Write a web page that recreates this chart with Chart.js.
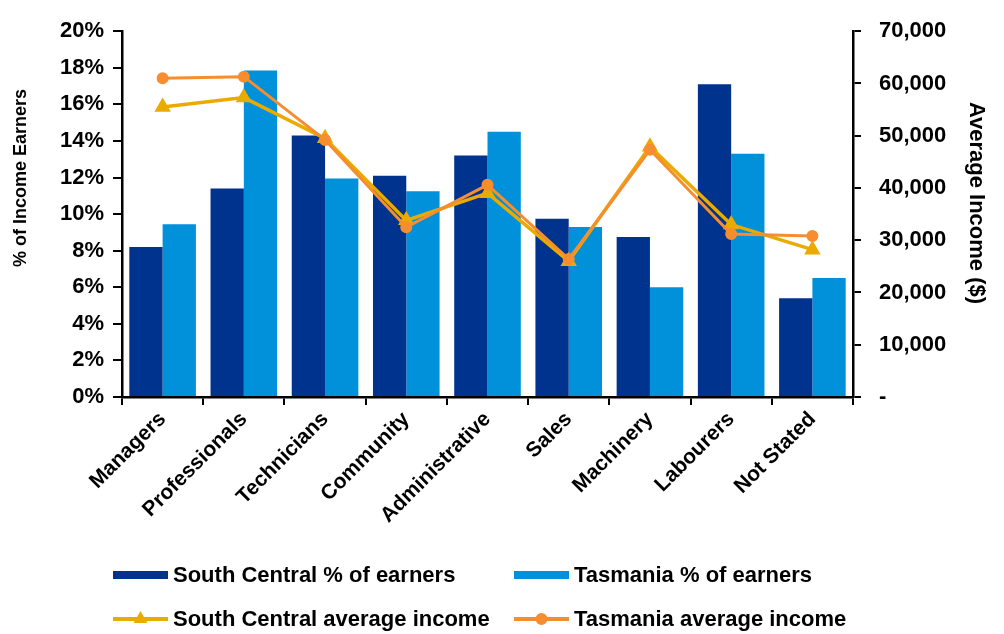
<!DOCTYPE html>
<html>
<head>
<meta charset="utf-8">
<script src="https://cdn.jsdelivr.net/npm/chart.js@4.4.1/dist/chart.umd.min.js"></script>
<style>
  html, body { margin: 0; padding: 0; background: #ffffff; }
</style>
</head>
<body>
<canvas id="occupationChart" width="1004" height="634"></canvas>
<script>
// Occupation groups along the x-axis
const occupations = [
    'Managers', 'Professionals', 'Technicians', 'Community', 'Administrative',
    'Sales', 'Machinery', 'Labourers', 'Not Stated'
];

// Share of income earners (%) per occupation
const southCentralShare = [8.2, 11.4, 14.3, 12.1, 13.2, 9.75, 8.75, 17.1, 5.4];
const tasmaniaShare = [9.45, 17.85, 11.95, 11.25, 14.5, 9.3, 6.0, 13.3, 6.5];

// Average income ($) per occupation
const southCentralIncome = [55500, 57300, 49500, 33800, 39000, 26000, 47900, 33000, 28200];
const tasmaniaIncome = [61000, 61300, 49200, 32500, 40600, 26400, 47300, 31200, 30800];

// Axis tick settings
const shareTicks = { min: 0, max: 20, step: 2 };
const incomeTicks = { min: 0, max: 70000, step: 10000 };

const FONT = 'Liberation Sans, Arial, sans-serif';
const darkBlue = '#00338D';
const lightBlue = '#0091DA';
const gold = '#EAAA00';
const orange = '#F68D2E';

// Axis titles and a two-column legend drawn under the category labels
const decorations = {
    id: 'decorations',
    afterDraw(chart) {
        const ctx = chart.ctx;
        ctx.save();
        ctx.fillStyle = '#000';
        ctx.textBaseline = 'middle';
        ctx.textAlign = 'center';

        ctx.font = 'bold 18px ' + FONT;
        ctx.save();
        ctx.translate(21, 178);
        ctx.rotate(-Math.PI / 2);
        ctx.fillText('% of Income Earners', 0, 0);
        ctx.restore();

        ctx.font = 'bold 22px ' + FONT;
        ctx.save();
        ctx.translate(976, 203);
        ctx.rotate(Math.PI / 2);
        ctx.fillText('Average Income ($)', 0, 0);
        ctx.restore();

        // legend: bars on the first row, lines on the second
        const slots = [
            { ds: 2, x: 113, y: 575 },
            { ds: 3, x: 514, y: 575 },
            { ds: 0, x: 113, y: 619 },
            { ds: 1, x: 514, y: 619 }
        ];
        ctx.textAlign = 'left';
        ctx.font = 'bold 22px ' + FONT;
        slots.forEach(s => {
            const ds = chart.data.datasets[s.ds];
            const w = 55;
            if (ds.type === 'line') {
                ctx.strokeStyle = ds.borderColor;
                ctx.lineWidth = 4;
                ctx.beginPath();
                ctx.moveTo(s.x, s.y);
                ctx.lineTo(s.x + w, s.y);
                ctx.stroke();
                Chart.helpers.drawPoint(ctx, {
                    pointStyle: ds.pointStyle,
                    radius: 4,
                    rotation: 0,
                    borderWidth: 1
                }, s.x + w / 2, s.y);
                ctx.fillStyle = ds.borderColor;
                ctx.fill();
            } else {
                ctx.fillStyle = ds.backgroundColor;
                ctx.fillRect(s.x, s.y - 4, w, 8);
            }
            ctx.fillStyle = '#000';
            ctx.fillText(ds.label, s.x + w + 5, s.y + 1);
        });
        ctx.restore();
    }
};

const axisGrid = {
    drawOnChartArea: false,
    drawTicks: true,
    color: '#000',
    lineWidth: 2
};

new Chart(document.getElementById('occupationChart').getContext('2d'), {
    data: {
        labels: occupations,
        datasets: [
            {
                type: 'line',
                label: 'South Central average income',
                data: southCentralIncome,
                yAxisID: 'y1',
                borderColor: gold,
                backgroundColor: gold,
                borderWidth: 3.5,
                pointStyle: 'triangle',
                pointRadius: 6,
                pointBackgroundColor: gold,
                pointBorderColor: gold,
                tension: 0,
                order: 1
            },
            {
                type: 'line',
                label: 'Tasmania average income',
                data: tasmaniaIncome,
                yAxisID: 'y1',
                borderColor: orange,
                backgroundColor: orange,
                borderWidth: 3,
                pointStyle: 'circle',
                pointRadius: 4.5,
                pointBackgroundColor: orange,
                pointBorderColor: orange,
                tension: 0,
                order: 0
            },
            {
                type: 'bar',
                label: 'South Central % of earners',
                data: southCentralShare,
                yAxisID: 'y',
                backgroundColor: darkBlue,
                categoryPercentage: 0.82,
                barPercentage: 1.0,
                order: 2
            },
            {
                type: 'bar',
                label: 'Tasmania % of earners',
                data: tasmaniaShare,
                yAxisID: 'y',
                backgroundColor: lightBlue,
                categoryPercentage: 0.82,
                barPercentage: 1.0,
                order: 2
            }
        ]
    },
    options: {
        responsive: false,
        animation: false,
        devicePixelRatio: 1,
        layout: { padding: { top: 20, bottom: 0, left: 0, right: 0 } },
        plugins: {
            legend: { display: false },
            tooltip: { enabled: false }
        },
        scales: {
            x: {
                grid: Object.assign({ offset: true, tickLength: 8 }, axisGrid),
                border: { color: '#000', width: 2.5 },
                ticks: {
                    color: '#000',
                    font: { family: FONT, size: 21, weight: 'bold' },
                    minRotation: 45,
                    maxRotation: 45,
                    padding: 2
                },
                afterFit: scale => { scale.height = 237; }
            },
            y: {
                position: 'left',
                min: shareTicks.min,
                max: shareTicks.max,
                grid: Object.assign({ tickLength: 9 }, axisGrid),
                border: { color: '#000', width: 2.5 },
                ticks: {
                    stepSize: shareTicks.step,
                    color: '#000',
                    font: { family: FONT, size: 22, weight: 'bold' },
                    padding: 9,
                    callback: v => v + '%'
                },
                afterFit: scale => { scale.width = 122; }
            },
            y1: {
                position: 'right',
                min: incomeTicks.min,
                max: incomeTicks.max,
                grid: Object.assign({ tickLength: 8 }, axisGrid),
                border: { color: '#000', width: 2.5 },
                ticks: {
                    stepSize: incomeTicks.step,
                    color: '#000',
                    font: { family: FONT, size: 22, weight: 'bold' },
                    padding: 18,
                    callback: v => v === 0 ? '-' : v.toLocaleString('en-US')
                },
                afterFit: scale => { scale.width = 151; }
            }
        }
    },
    plugins: [decorations]
});
</script>
</body>
</html>
